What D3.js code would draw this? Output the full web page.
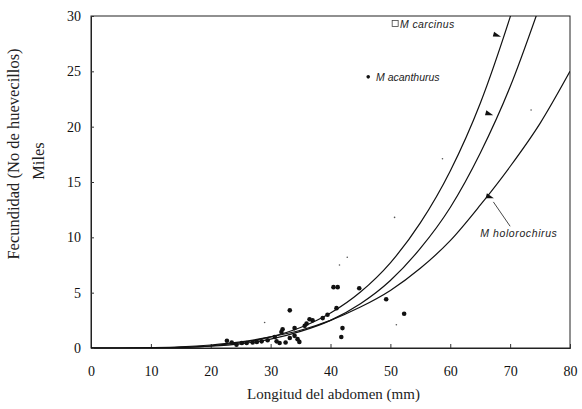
<!DOCTYPE html>
<html>
<head>
<meta charset="utf-8">
<script src="https://cdn.jsdelivr.net/npm/d3@7"></script>
<style>
  body { margin: 0; background: #fff; }
  svg { display: block; }
  .tick text { font-family: "Liberation Serif", "Times New Roman", serif; font-size: 14px; fill: #111; }
  .lbl { font-family: "Liberation Serif", "Times New Roman", serif; font-size: 15px; fill: #222; }
  .ylbl { font-family: "Liberation Serif", "Times New Roman", serif; font-size: 16.5px; fill: #222; }
  .sp { font-family: "Liberation Sans", Arial, sans-serif; font-size: 10.5px; font-style: italic; fill: #222; }
</style>
</head>
<body>
<div id="chart"></div>
<script>
// fitted curves (length mm -> fecundity, thousands)
const carcinusL = [0, 5, 10, 15, 20, 25, 30, 35, 40, 45, 50, 55, 60, 65, 70, 71];
const carcinusF = [0, 0, 0.01, 0.06, 0.2, 0.48, 1.0, 1.85, 3.16, 5.06, 7.7, 11.3, 16.0, 22.1, 29.9, 31.6];

const acanthurusL = [0, 5, 10, 15, 20, 25, 30, 35, 40, 45, 50, 55, 60, 65, 70, 75];
const acanthurusF = [0, 0, 0.01, 0.05, 0.16, 0.38, 0.8, 1.5, 2.5, 4.0, 6.1, 9.0, 12.7, 17.6, 23.6, 31.0];

const holorochirusL = [0, 5, 10, 15, 20, 25, 30, 35, 40, 45, 50, 55, 60, 65, 70, 75, 80];
const holorochirusF = [0, 0, 0.03, 0.1, 0.27, 0.55, 1.0, 1.6, 2.5, 3.7, 5.2, 7.2, 9.7, 12.9, 16.4, 20.3, 25.0];

// observed females
const obsL = [22.7, 23.5, 24.3, 25.2, 26, 27, 27.7, 28.5, 29.5, 30.7, 31, 31.5, 31.8, 32, 32.5, 33.2, 33.2, 34, 34, 34.5,
              34.8, 35.7, 36, 36.5, 37, 38.7, 39.5, 41, 40.5, 41.2, 44.8, 42, 41.8, 49.3, 52.3];
const obsF = [0.65, 0.5, 0.3, 0.45, 0.45, 0.5, 0.55, 0.6, 0.7, 1.0, 0.6, 0.45, 1.45, 1.7, 0.5, 3.4, 0.9, 1.8, 1.1, 0.8,
              0.55, 2.0, 2.2, 2.6, 2.5, 2.7, 3.0, 3.6, 5.5, 5.5, 5.4, 1.8, 1.0, 4.4, 3.1];
// faint specks
const speckL = [41.5, 42.8, 29, 51, 50.7, 58.7, 73.5];
const speckF = [7.5, 8.2, 2.3, 2.1, 11.8, 17.1, 21.5];

const xTicks = [0, 10, 20, 30, 40, 50, 60, 70, 80];
const yTicks = [0, 5, 10, 15, 20, 25, 30];

const W = 582, H = 409;
const margin = {top: 16, right: 12, bottom: 61, left: 91};

const svg = d3.select("#chart").append("svg")
    .attr("width", W)
    .attr("height", H);

const x = d3.scaleLinear().domain([0, 80]).range([margin.left, W - margin.right]);
const y = d3.scaleLinear().domain([0, 30]).range([H - margin.bottom, margin.top]);

svg.append("clipPath").attr("id", "clip")
    .append("rect")
    .attr("x", x(0)).attr("y", y(30))
    .attr("width", x(80) - x(0)).attr("height", y(0) - y(30));

// frame
svg.append("rect")
    .attr("x", x(0)).attr("y", y(30))
    .attr("width", x(80) - x(0)).attr("height", y(0) - y(30))
    .attr("fill", "none")
    .attr("stroke", "#222")
    .attr("stroke-width", 1);

// axes, ticks pointing inward
const xAxis = svg.append("g")
    .attr("transform", `translate(0,${y(0)})`)
    .call(d3.axisBottom(x).tickValues(xTicks).tickSize(-4).tickPadding(18));
const yAxis = svg.append("g")
    .attr("transform", `translate(${x(0)},0)`)
    .call(d3.axisLeft(y).tickValues(yTicks).tickSize(-3).tickPadding(10));
[xAxis, yAxis].forEach(g => {
    g.select(".domain").attr("stroke", "#222");
    g.selectAll(".tick line").attr("stroke", "#333");
});

// curves
const line = d3.line()
    .x(d => x(d[0]))
    .y(d => y(d[1]))
    .curve(d3.curveMonotoneX);

const curves = [
    d3.zip(carcinusL, carcinusF),
    d3.zip(acanthurusL, acanthurusF),
    d3.zip(holorochirusL, holorochirusF)
];

svg.append("g").attr("clip-path", "url(#clip)")
    .selectAll("path")
    .data(curves)
    .enter().append("path")
    .attr("d", line)
    .attr("fill", "none")
    .attr("stroke", "#111")
    .attr("stroke-width", 1.2);

// points
svg.append("g")
    .selectAll("circle.obs")
    .data(d3.zip(obsL, obsF))
    .enter().append("circle")
    .attr("class", "obs")
    .attr("cx", d => x(d[0]))
    .attr("cy", d => y(d[1]))
    .attr("r", 2.3)
    .attr("fill", "#111");

svg.append("g")
    .selectAll("circle.speck")
    .data(d3.zip(speckL, speckF))
    .enter().append("circle")
    .attr("class", "speck")
    .attr("cx", d => x(d[0]))
    .attr("cy", d => y(d[1]))
    .attr("r", 0.8)
    .attr("fill", "#555");

// species labels with little wedge markers on the curves
const wedge = "M-5,-3 L3,0 L-5,2 Z";
const markers = [[68, 28.2], [66.7, 21.1], [66.8, 13.6]];
svg.append("g")
    .selectAll("path")
    .data(markers)
    .enter().append("path")
    .attr("d", wedge)
    .attr("transform", d => `translate(${x(d[0])},${y(d[1])}) rotate(15)`)
    .attr("fill", "#111");

svg.append("rect")
    .attr("x", x(50.3)).attr("y", y(29.6))
    .attr("width", 6).attr("height", 6)
    .attr("fill", "none").attr("stroke", "#444").attr("stroke-width", 0.8);
svg.append("text").attr("class", "sp")
    .attr("x", x(51.6)).attr("y", y(28.9))
    .attr("letter-spacing", "0.4")
    .text("M  carcinus");

svg.append("circle")
    .attr("cx", x(46.3)).attr("cy", y(24.5))
    .attr("r", 1.8).attr("fill", "#111");
svg.append("text").attr("class", "sp")
    .attr("x", x(47.6)).attr("y", y(24.1))
    .text("M  acanthurus");

svg.append("line")
    .attr("x1", x(67.2)).attr("y1", y(13.2))
    .attr("x2", x(70)).attr("y2", y(11.0))
    .attr("stroke", "#333").attr("stroke-width", 0.9);
svg.append("text").attr("class", "sp")
    .attr("x", x(65)).attr("y", y(10.0))
    .attr("letter-spacing", "0.6")
    .text("M  holorochirus");

// axis titles
svg.append("text").attr("class", "lbl")
    .attr("x", (x(0) + x(80)) / 2 + 3)
    .attr("y", 399)
    .attr("text-anchor", "middle")
    .text("Longitud del abdomen (mm)");

svg.append("text").attr("class", "ylbl")
    .attr("transform", "translate(19,154) rotate(-90)")
    .attr("text-anchor", "middle")
    .text("Fecundidad (No de huevecillos)");
svg.append("text").attr("class", "ylbl")
    .attr("transform", "translate(44,161) rotate(-90)")
    .attr("text-anchor", "middle")
    .text("Miles");
</script>
</body>
</html>
